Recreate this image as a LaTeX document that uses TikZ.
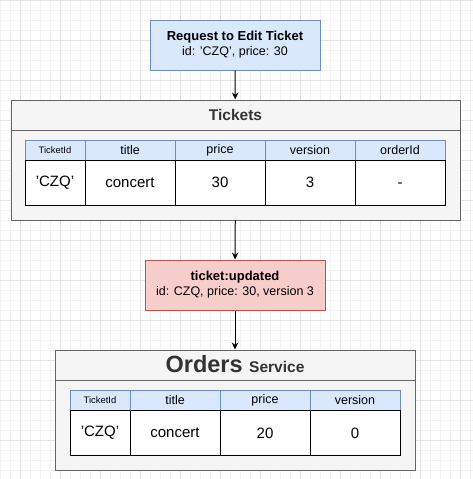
\documentclass[tikz,border=0pt]{standalone}
\usepackage{fontspec}
\setmainfont{Liberation Sans}
\usetikzlibrary{arrows.meta}
\definecolor{bluefill}{HTML}{DAE8FC}
\definecolor{blueline}{HTML}{6C8EBF}
\definecolor{redfill}{HTML}{F8CECC}
\definecolor{redline}{HTML}{B85450}
\definecolor{boxfill}{HTML}{F5F5F5}
\definecolor{boxline}{HTML}{666666}
\definecolor{boxtext}{HTML}{333333}
\definecolor{gridmajor}{HTML}{E3E3E3}
\definecolor{gridminor}{HTML}{F3F3F3}
\tikzset{
  msgbox/.style={draw=blueline, fill=bluefill, line width=1pt, inner sep=0pt, align=center,
    font=\fontsize{12.5}{15}\selectfont},
  eventbox/.style={msgbox, draw=redline, fill=redfill},
  service/.style={draw=boxline, fill=boxfill, line width=1pt, inner sep=0pt},
  headcell/.style={draw=blueline, fill=bluefill, line width=1pt, inner sep=0pt,
    minimum height=20pt, font=\fontsize{12.5}{15}\selectfont},
  datacell/.style={draw=black, fill=white, line width=1pt, inner sep=0pt,
    minimum height=45pt, font=\fontsize{15}{18}\selectfont},
  arr/.style={line width=1pt, -{Stealth[length=7pt,width=6.5pt]}}
}
\begin{document}
\begin{tikzpicture}[x=1pt, y=-1pt]
			%%%%% BACKGROUND %%%%%
			\useasboundingbox (0,0) rectangle (473,479);
			\fill[white] (0,0) rectangle (473,479);
			\begin{scope}
			\clip (0,0) rectangle (473,479);
			\draw[gridminor, line width=1pt, step=10pt] (0pt,0pt) grid (473pt,-479pt);
			\draw[gridmajor, line width=1pt, step=40pt, xshift=20pt] (-20pt,0pt) grid (453pt,-479pt);
			\end{scope}
			
			%%%%% REQUEST %%%%%
			\node[msgbox, minimum width=170pt, minimum height=50pt] (req) at (235,45)
				{{\fontsize{13}{15}\selectfont\bfseries Request to Edit Ticket}\\id: 'CZQ', price: 30};
			
			%%%%% TICKETS %%%%%
			\node[service, minimum width=449pt, minimum height=120pt] (tickets) at (235.5,160) {};
			\draw[boxline, line width=1pt] (11,130) -- (460,130);
			\node[anchor=base, text=boxtext, font=\fontsize{15.5}{18}\selectfont\bfseries] (ticketstitle) at (235.5,120) {Tickets};
			
			\node[headcell, minimum width=60pt, font=\fontsize{9.4}{11}\selectfont] (thid) at (55,150) {TicketId};
			\node[headcell, minimum width=90pt] (thtitle) at (130,150) {title};
			\node[headcell, minimum width=90pt] (thprice) at (220,150) {price};
			\node[headcell, minimum width=90pt] (thversion) at (310,150) {version};
			\node[headcell, minimum width=90pt] (thorder) at (400,150) {orderId};
			
			\node[datacell, minimum width=60pt] (tdid) at (55,182.5) {'CZQ'};
			\node[datacell, minimum width=90pt] (tdtitle) at (130,182.5) {concert};
			\node[datacell, minimum width=90pt] (tdprice) at (220,182.5) {30};
			\node[datacell, minimum width=90pt] (tdversion) at (310,182.5) {3};
			\node[datacell, minimum width=90pt] (tdorder) at (400,182.5) {\vphantom{0}-};
			
			%%%%% EVENT %%%%%
			\node[eventbox, minimum width=180pt, minimum height=50pt] (event) at (235,285)
				{{\fontsize{13}{15}\selectfont\bfseries ticket:updated}\\id: CZQ, price: 30, version 3};
			
			%%%%% ORDERS %%%%%
			\node[service, minimum width=360pt, minimum height=120pt] (orders) at (235,410) {};
			\draw[boxline, line width=1pt] (55,380) -- (415,380);
			\node[anchor=base, text=boxtext, font=\bfseries] (orderstitle) at (235,372)
				{\fontsize{23.5}{28}\selectfont Orders\ \fontsize{15.5}{18}\selectfont Service};
			
			\node[headcell, minimum width=60pt, font=\fontsize{9.4}{11}\selectfont] (ohid) at (100,400.5) {TicketId};
			\node[headcell, minimum width=90pt] (ohtitle) at (175,400.5) {title};
			\node[headcell, minimum width=90pt] (ohprice) at (265,400.5) {price};
			\node[headcell, minimum width=90pt] (ohversion) at (355,400.5) {version};
			
			\node[datacell, minimum width=60pt] (odid) at (100,433) {'CZQ'};
			\node[datacell, minimum width=90pt] (odtitle) at (175,433) {concert};
			\node[datacell, minimum width=90pt] (odprice) at (265,433) {20};
			\node[datacell, minimum width=90pt] (odversion) at (355,433) {0};
			
			%%%%% ARROWS %%%%%
			\draw[arr] (req) -- (tickets);
			\draw[arr] (tickets) -- (event);
			\draw[arr] (event) -- (orders);
\end{tikzpicture}
\end{document}
